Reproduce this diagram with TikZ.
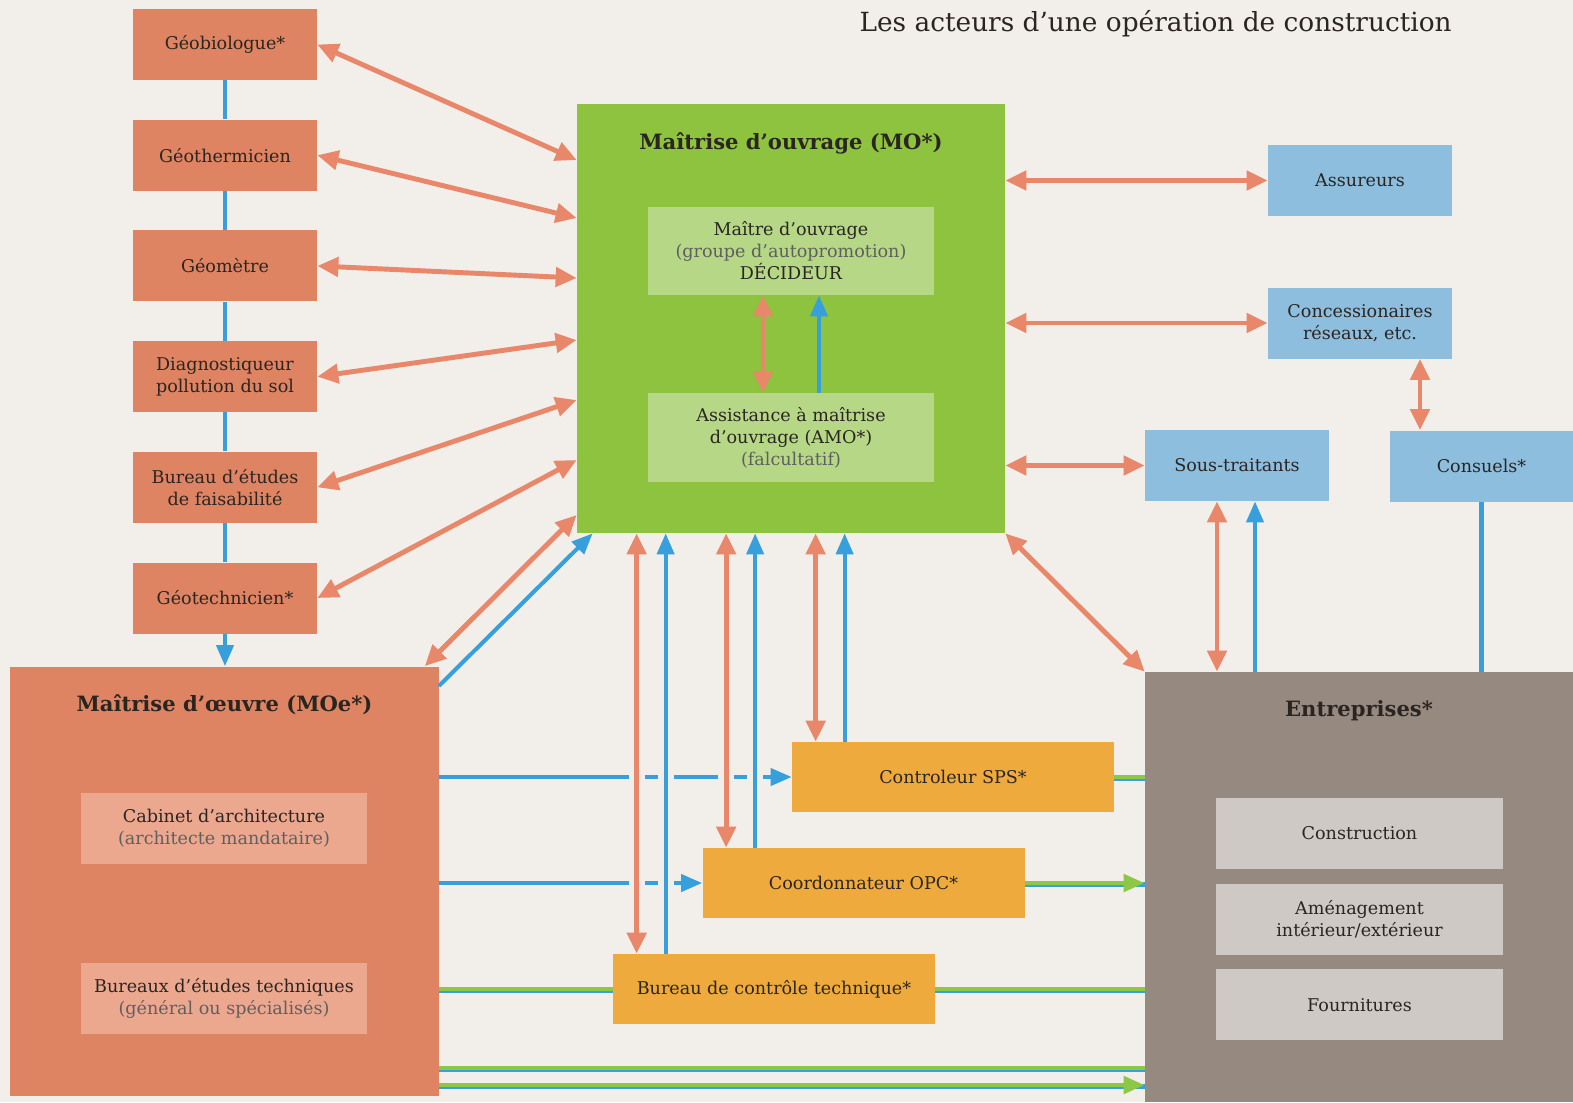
\documentclass[tikz,border=0pt]{standalone}
\usepackage{fontspec}
\setmainfont{DejaVu Serif}
\usepackage{xcolor}
\usetikzlibrary{arrows.meta, positioning, calc}

\definecolor{cpapier}{RGB}{242,238,233}
\definecolor{corange}{RGB}{222,132,98}
\definecolor{corangeclair}{RGB}{236,168,142}
\definecolor{cvert}{RGB}{141,195,62}
\definecolor{cvertclair}{RGB}{182,216,134}
\definecolor{cbleuclair}{RGB}{141,190,222}
\definecolor{cjaune}{RGB}{238,170,60}
\definecolor{cbrun}{RGB}{150,137,127}
\definecolor{cgrisclair}{RGB}{206,201,196}
\definecolor{cfleche}{RGB}{232,135,105}
\definecolor{cbleu}{RGB}{55,160,220}
\definecolor{cvertfleche}{RGB}{140,200,70}
\definecolor{ctexte}{RGB}{43,37,34}
\definecolor{cgris}{RGB}{95,95,95}

\begin{document}
\begin{tikzpicture}[
    x=0.2mm, y=-0.2mm,
    acteur/.style={rectangle, fill=corange, minimum width=3.68cm, minimum height=1.42cm, align=center, text=ctexte, font=\fontsize{10}{12.5}\selectfont, inner sep=2pt},
    partenaire/.style={acteur, fill=cbleuclair},
    mission/.style={acteur, fill=cjaune, minimum width=6.44cm, minimum height=1.4cm},
    bloc/.style={rectangle, minimum width=8.56cm, minimum height=8.58cm, inner sep=0pt},
    sousbloc/.style={acteur, minimum width=5.72cm},
    titre/.style={text=ctexte, font=\fontsize{12}{14}\selectfont\bfseries},
    lien/.style={<->, >={Triangle[length=0.42cm, width=0.38cm]}, draw=cfleche, line width=2.8pt},
    flux/.style={->, >={Triangle[length=0.42cm, width=0.34cm]}, draw=cbleu, line width=2.3pt},
    trait/.style={draw=cbleu, line width=2.3pt},
    livre/.style={draw=cvertfleche, line width=2.8pt, >={Triangle[length=0.42cm, width=0.34cm]},
        preaction={draw=cbleu, -, line width=2.8pt, transform canvas={yshift=-0.9pt}}},
    halo/.style={preaction={draw=cpapier, -, line width=9pt}},
    node distance=0.78cm
]
\useasboundingbox (0,0) rectangle (1573,1102);
\fill[cpapier] (0,0) rectangle (1573,1102);

\node[text=ctexte, font=\fontsize{15}{17}\selectfont, anchor=east, inner sep=0pt] (Titre) at (1452,24) {Les acteurs d'une opération de construction};

% études préalables
\node[acteur] (Geobiologue) at (225,44.5) {Géobiologue*};
\node[acteur, below=of Geobiologue] (Geothermicien) {Géothermicien};
\node[acteur, below=of Geothermicien] (Geometre) {Géomètre};
\node[acteur, below=of Geometre] (Diagnostiqueur) {Diagnostiqueur\\pollution du sol};
\node[acteur, below=of Diagnostiqueur] (BEfaisabilite) {Bureau d'études\\de faisabilité};
\node[acteur, below=of BEfaisabilite] (Geotechnicien) {Géotechnicien*};

% maîtrise d'ouvrage
\node[bloc, fill=cvert] (MO) at (791,318.5) {};
\node[titre] (MOtitre) at (791,143) {Maîtrise d'ouvrage (MO*)};
\node[sousbloc, fill=cvertclair, minimum height=1.76cm] (MaitreOuvrage) at (791,251) {Maître d'ouvrage\\{\color{cgris}(groupe d'autopromotion)}\\DÉCIDEUR};
\node[sousbloc, fill=cvertclair, minimum height=1.78cm] (AMO) at (791,437.5) {Assistance à maîtrise\\d'ouvrage (AMO*)\\{\color{cgris}(falcultatif)}};

% maîtrise d'oeuvre
\node[bloc, fill=corange] (MOe) at (224.5,881) {};
\node[titre] (MOetitre) at (224.5,705) {Maîtrise d'œuvre (MOe*)};
\node[sousbloc, fill=corangeclair] (Cabinet) at (224,828.5) {Cabinet d'architecture\\{\color{cgris}(architecte mandataire)}};
\node[sousbloc, fill=corangeclair] (BET) at (224,998) {Bureaux d'études techniques\\{\color{cgris}(général ou spécialisés)}};

% entreprises
\node[bloc, fill=cbrun, minimum height=8.6cm] (Entreprises) at (1359,887) {};
\node[titre] (Enttitre) at (1359,711) {Entreprises*};
\node[sousbloc, fill=cgrisclair, minimum width=5.74cm] (Construction) at (1359.5,833.5) {Construction};
\node[sousbloc, fill=cgrisclair, minimum width=5.74cm, below=0.28cm of Construction] (Amenagement) {Aménagement\\intérieur/extérieur};
\node[sousbloc, fill=cgrisclair, minimum width=5.74cm, below=0.28cm of Amenagement] (Fournitures) {Fournitures};

% missions de contrôle
\node[mission] (SPS) at (953,777) {Controleur SPS*};
\node[mission] (OPC) at (863.5,883) {Coordonnateur OPC*};
\node[mission] (BCT) at (774,989) {Bureau de contrôle technique*};

% partenaires
\node[partenaire] (Assureurs) at (1360,180.5) {Assureurs};
\node[partenaire] (Concessionnaires) at (1360,323) {Concessionaires\\réseaux, etc.};
\node[partenaire] (SousTraitants) at (1237,465.5) {Sous-traitants};
\node[partenaire, minimum width=3.66cm] (Consuels) at (1481.5,466) {Consuels*};

% liens
\foreach \a/\b in {Geobiologue/Geothermicien, Geothermicien/Geometre, Geometre/Diagnostiqueur, Diagnostiqueur/BEfaisabilite, BEfaisabilite/Geotechnicien}
  \draw[trait] (\a) -- (\b);
\draw[flux] (Geotechnicien) -- (MOe.north -| Geotechnicien);

\foreach \n/\y in {Geobiologue/160, Geothermicien/218, Geometre/278, Diagnostiqueur/340, BEfaisabilite/400, Geotechnicien/460}
  \draw[lien] (\n.east) -- (MO.west |- 0,\y);
\draw[lien] ($(MOe.north east)+(-14,0)$) -- (MO.west |- 0,515);
\draw[flux] (MOe.east |- 0,686) -- ($(MO.south west)+(16,0)$);

\draw[lien] ([xshift=-0.56cm]MaitreOuvrage.south) -- ([xshift=-0.56cm]AMO.north);
\draw[flux] ([xshift=0.56cm]AMO.north) -- ([xshift=0.56cm]MaitreOuvrage.south);

\draw[flux] (MOe.east |- SPS) -- (SPS.west);
\draw[flux] (MOe.east |- OPC) -- (OPC.west);
\foreach \m in {BCT, OPC, SPS} {
  \draw[lien, halo] ($(\m.north west)+(24,0)$) coordinate (o\m) -- (o\m |- MO.south);
  \draw[flux, halo] ($(\m.north west)+(53,0)$) coordinate (b\m) -- (b\m |- MO.south);
}

\draw[lien] (MO.east |- Assureurs) -- (Assureurs.west);
\draw[lien] (MO.east |- Concessionnaires) -- (Concessionnaires.west);
\draw[lien] (MO.east |- SousTraitants) -- (SousTraitants.west);
\draw[lien] (Concessionnaires.south -| 1420,0) -- (Consuels.north -| 1420,0);
\draw[lien] (MO.south east) -- (Entreprises.north west);
\draw[lien] (SousTraitants.south -| 1217,0) -- (Entreprises.north -| 1217,0);
\draw[flux] (Entreprises.north -| 1255,0) -- (SousTraitants.south -| 1255,0);
\draw[trait] (Consuels.south) -- (Consuels.south |- Entreprises.north);

\draw[livre] (SPS.east) -- (Entreprises.west |- SPS);
\draw[livre, ->] (OPC.east) -- (Entreprises.west |- OPC);
\draw[livre] (MOe.east |- BCT) -- (BCT.west);
\draw[livre] (BCT.east) -- (Entreprises.west |- BCT);
\draw[livre] (MOe.east |- 0,1068) -- (Entreprises.west |- 0,1068);
\draw[livre, ->] (MOe.east |- 0,1085) -- (Entreprises.west |- 0,1085);

\end{tikzpicture}
\end{document}
